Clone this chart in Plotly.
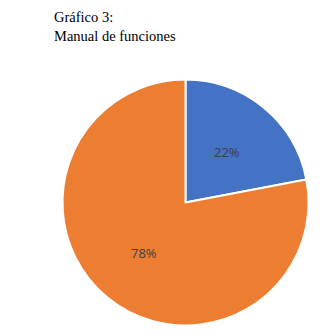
import math
import plotly.graph_objects as go

categories = ["Sí", "No"]
values = [22, 78]
colors = ["#4472C4", "#ED7D31"]
title_lines = ["Gráfico 3:", "Manual de funciones"]

W, H = 320, 335
dom_x = [62.5 / W, 308.5 / W]
dom_y = [9 / H, 256 / H]
fig = go.Figure()
fig.add_trace(go.Pie(
    labels=categories, values=values, sort=False, direction="clockwise", rotation=0,
    marker=dict(colors=colors, line=dict(color="white", width=2)),
    textinfo="none",
    domain=dict(x=dom_x, y=dom_y),
    showlegend=False, hoverinfo="skip",
))

# data labels placed at the middle angle of each slice
cx = (dom_x[0] + dom_x[1]) / 2 * W
cy = (dom_y[0] + dom_y[1]) / 2 * H
R = min((dom_x[1] - dom_x[0]) * W, (dom_y[1] - dom_y[0]) * H) / 2
total = sum(values)
cum = 0
for v in values:
    mid = (cum + v / 2) / total * 2 * math.pi
    cum += v
    px = cx + 0.53 * R * math.sin(mid)
    py = cy + 0.53 * R * math.cos(mid)
    fig.add_annotation(
        text=f"{round(100 * v / total)}%", x=px / W, y=py / H, xref="paper", yref="paper",
        showarrow=False, xanchor="center", yanchor="middle",
        font=dict(family="Open Sans", size=13, color="#404040"),
    )

fig.add_annotation(
    text="<br>".join(title_lines), x=52 / W, y=1 - 7 / H, xref="paper", yref="paper",
    xanchor="left", yanchor="top", align="left", showarrow=False,
    font=dict(family="Liberation Serif", size=14.5, color="#000000"),
)
fig.update_layout(width=W, height=H, margin=dict(l=0, r=0, t=0, b=0),
                  paper_bgcolor="white", plot_bgcolor="white")
fig.write_html("out.html")
